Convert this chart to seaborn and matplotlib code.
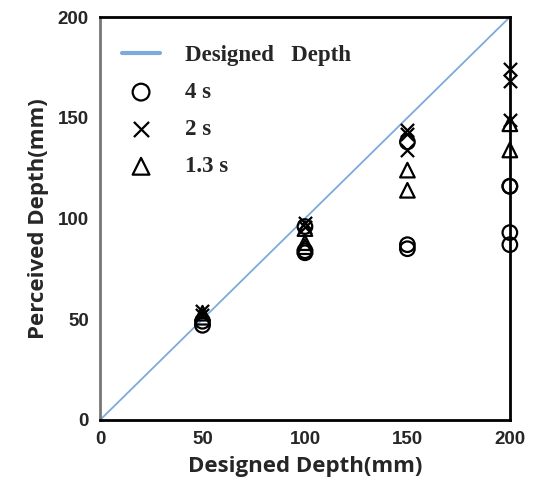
import matplotlib
matplotlib.use("Agg")
import matplotlib.pyplot as plt
import seaborn as sns
import pandas as pd

line_x = [0, 200]
line_y = [0, 200]

x_4s = [50, 50, 100, 100, 100, 150, 150, 150, 200, 200, 200, 200]
y_4s = [47, 49, 96, 84, 83, 138, 87, 85, 116, 116, 93, 87]

x_2s = [50, 50, 100, 100, 150, 150, 150, 200, 200, 200]
y_2s = [52, 54, 98, 96, 144, 142, 134, 174, 168, 149]

x_13s = [50, 50, 100, 100, 100, 150, 150, 200, 200]
y_13s = [53, 51, 95, 88, 86, 124, 114, 147, 134]

ticks = [0, 50, 100, 150, 200]

sns.set_theme(style="white")
plt.rcParams['font.family'] = ['Liberation Sans', 'DejaVu Sans']

fig = plt.figure(figsize=(5.35, 5.0), dpi=100)
ax = fig.add_axes([0.187, 0.16, 0.766, 0.806])

sns.lineplot(x=line_x, y=line_y, ax=ax, color='#7eaadb', linewidth=1.3,
             label='Designed   Depth')
sns.scatterplot(x=x_4s, y=y_4s, ax=ax, marker='o', s=110, facecolors='none',
                edgecolor='black', linewidth=1.6, label='4 s', zorder=3,
                clip_on=False)
sns.scatterplot(x=x_2s, y=y_2s, ax=ax, marker='x', s=90, color='black',
                linewidth=1.6, label='2 s', zorder=3, clip_on=False)
sns.scatterplot(x=x_13s, y=y_13s, ax=ax, marker='^', s=110, facecolors='none',
                edgecolor='black', linewidth=1.6, label='1.3 s', zorder=3,
                clip_on=False)

ax.set_xlim(0, 200)
ax.set_ylim(0, 200)
ax.set_xticks(ticks)
ax.set_yticks(ticks)
ax.tick_params(length=0, labelsize=13.5, pad=8)
for lab in ax.get_xticklabels() + ax.get_yticklabels():
    lab.set_fontweight('bold')
for s in ax.spines.values():
    s.set_color('black')
    s.set_linewidth(2)
ax.spines['left'].set_color('#777777')

ax.set_xlabel('Designed Depth(mm)', fontsize=16, fontweight='bold',
              family=['Open Sans', 'DejaVu Sans'], labelpad=6)
ax.set_ylabel('Perceived Depth(mm)', fontsize=16, fontweight='bold',
              family=['Open Sans', 'DejaVu Sans'], labelpad=6)

leg = ax.legend(loc='upper left', bbox_to_anchor=(22 / 410, 1 - 28 / 403),
                frameon=False, labelspacing=0.7, borderpad=0,
                handlelength=1.66, handletextpad=1.1, borderaxespad=0,
                markerscale=1.15,
                prop={'family': 'Liberation Serif', 'weight': 'bold', 'size': 16.5})
leg.get_lines()[0].set_linewidth(3)

fig.savefig('out.png', dpi=100)
